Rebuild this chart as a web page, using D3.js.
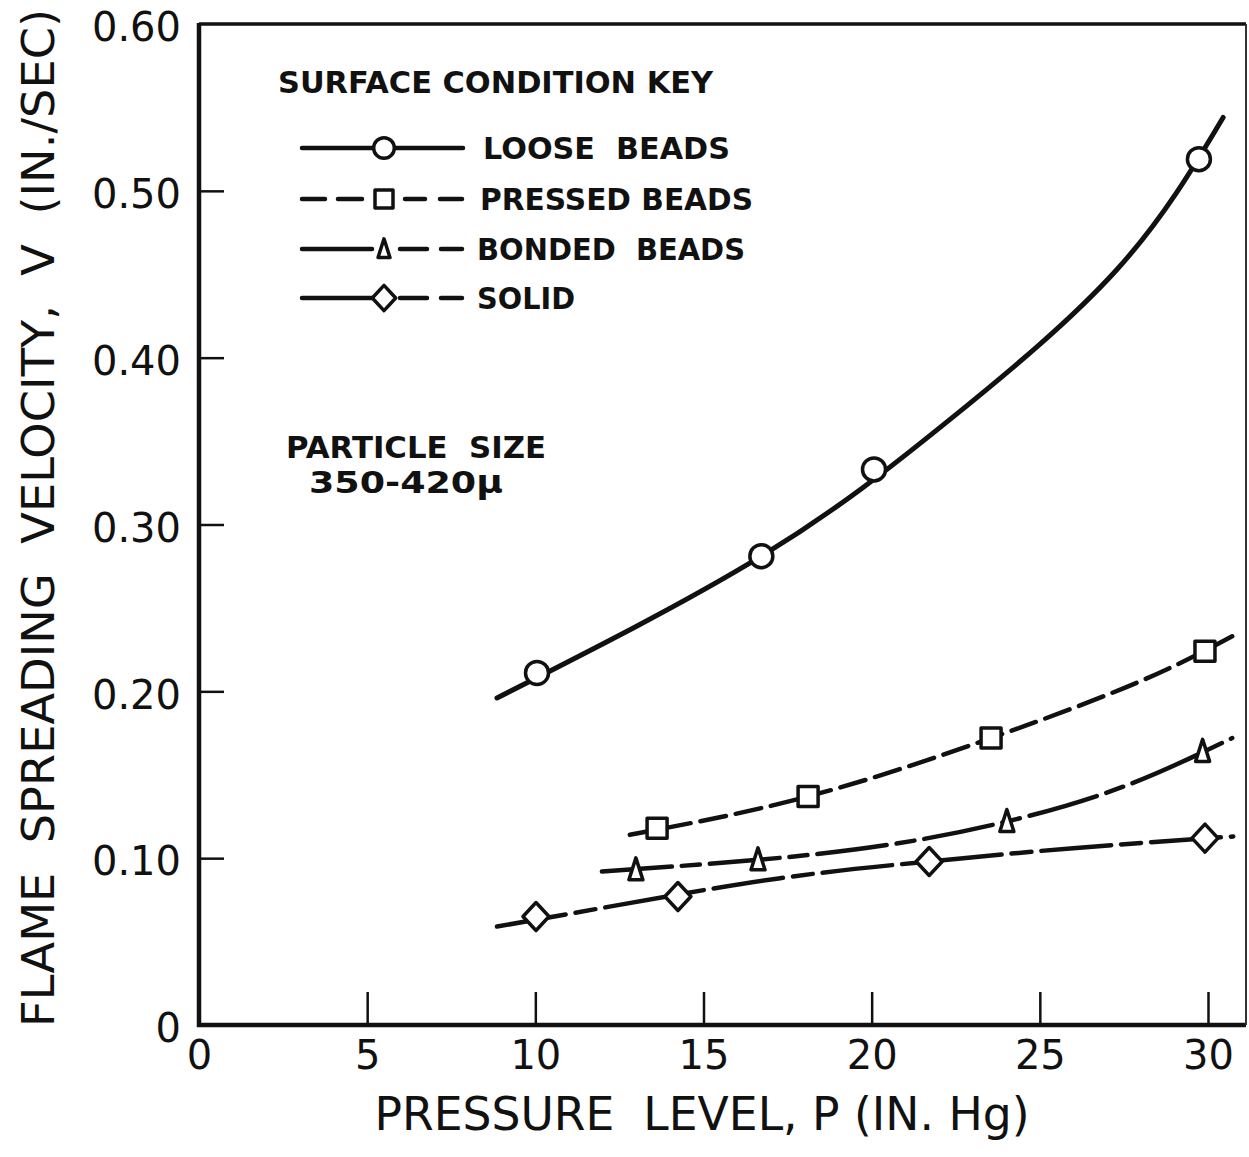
<!DOCTYPE html>
<html>
<head>
<meta charset="utf-8">
<script src="https://cdn.jsdelivr.net/npm/d3@7"></script>
<style>
  body { margin: 0; background: #fff; }
  text { font-family: "DejaVu Sans", sans-serif; fill: #111; white-space: pre; }
</style>
</head>
<body>
<div id="chart"></div>
<script>
// axis ticks
const xTicks = [0, 5, 10, 15, 20, 25, 30];
const yTicks = [0, 0.1, 0.2, 0.3, 0.4, 0.5, 0.6];
const yTickLabels = ["0", "0.10", "0.20", "0.30", "0.40", "0.50", "0.60"];

// measured points [P (in. Hg), V (in./sec)]
const looseBeads = [[10.05, 0.211], [16.72, 0.281], [20.07, 0.333], [29.73, 0.519]];
const pressedBeads = [[13.62, 0.118], [18.11, 0.137], [23.55, 0.172], [29.91, 0.224]];
const bondedBeads = [[12.99, 0.093], [16.62, 0.099], [24.02, 0.122], [29.84, 0.164]];
const solid = [[10.02, 0.065], [14.24, 0.077], [21.71, 0.098], [29.91, 0.112]];

// faired curves
const looseCurve = [[8.86, 0.196], [16.72, 0.281], [22.33, 0.363], [27.3, 0.453], [30.45, 0.544]];
const pressedCurve = [[12.81, 0.114], [18.11, 0.137], [23.55, 0.172], [27.98, 0.206], [30.72, 0.233]];
const bondedCurve = [[11.98, 0.092], [16.62, 0.099], [20.5, 0.108], [24.02, 0.122], [27.5, 0.143],
  [30.72, 0.172]];
const solidCurve = [[8.86, 0.059], [12.5, 0.072], [17.28, 0.088], [21.71, 0.098], [25.99, 0.106],
  [30.75, 0.113]];

const keyLabels = ["LOOSE  BEADS", "PRESSED BEADS", "BONDED  BEADS", "SOLID"];

const width = 1249, height = 1157;

const x = d3.scaleLinear().domain([0, 31.13]).range([199, 1246]);
const y = d3.scaleLinear().domain([0, 0.6]).range([1025, 24]);

const svg = d3.select("#chart")
  .append("svg")
  .attr("width", width)
  .attr("height", height)
  .attr("viewBox", `0 0 ${width} ${height}`);

// marker shapes
const drawMarker = (g, type, s) => {
  if (type === "circle") {
    g.append("circle").attr("r", 11.5 * s);
  } else if (type === "square") {
    g.append("rect").attr("x", -10 * s).attr("y", -10 * s).attr("width", 20 * s).attr("height", 20 * s);
  } else if (type === "triangle") {
    g.append("path").attr("d", `M0,${-12 * s}L${7 * s},${10 * s}L${-7 * s},${10 * s}Z`);
  } else {
    g.append("path").attr("d", `M0,${-14 * s}L${13 * s},0L0,${14 * s}L${-13 * s},0Z`);
  }
  g.selectAll("*")
    .attr("fill", "#fff")
    .attr("stroke", "#111")
    .attr("stroke-width", 3.5)
    .attr("stroke-linejoin", "round");
};

const series = [
  { pts: looseBeads, curve: looseCurve, marker: "circle", dash: null, w: 5 },
  { pts: pressedBeads, curve: pressedCurve, marker: "square", dash: "26,10", w: 4.5 },
  { pts: bondedBeads, curve: bondedCurve, marker: "triangle", dash: "70,10,18,10", w: 4.5 },
  { pts: solid, curve: solidCurve, marker: "diamond", dash: "70,10,20,10", w: 4.5 },
];

// y axis ticks and labels
const yAxis = svg.append("g")
  .attr("transform", `translate(${x(0)},0)`)
  .call(d3.axisLeft(y).tickValues(yTicks).tickFormat((d, i) => yTickLabels[i])
    .tickSizeInner(-25).tickSizeOuter(0).tickPadding(18));
yAxis.select(".domain").remove();
yAxis.selectAll(".tick line").attr("stroke", "#111").attr("stroke-width", 2.5)
  .filter((d) => d === 0 || d === 0.6).remove();
yAxis.selectAll(".tick text").attr("font-size", 40).attr("fill", "#111").attr("dy", "0.42em")
  .attr("font-family", '"DejaVu Sans", sans-serif');

// x axis ticks and labels
const xAxis = svg.append("g")
  .attr("transform", `translate(0,${y(0)})`)
  .call(d3.axisBottom(x).tickValues(xTicks).tickFormat(d3.format("d"))
    .tickSizeInner(-33).tickSizeOuter(0).tickPadding(16));
xAxis.select(".domain").remove();
xAxis.selectAll(".tick line").attr("stroke", "#111").attr("stroke-width", 2.5)
  .filter((d) => d === 0).remove();
xAxis.selectAll(".tick text").attr("font-size", 40).attr("fill", "#111")
  .attr("font-family", '"DejaVu Sans", sans-serif');

// frame
svg.append("line").attr("x1", x(0)).attr("x2", x(0)).attr("y1", y(0.6) - 1).attr("y2", y(0) + 2)
  .attr("stroke", "#111").attr("stroke-width", 4.5);
svg.append("line").attr("x1", x(0) - 2).attr("x2", x(31.13)).attr("y1", y(0)).attr("y2", y(0))
  .attr("stroke", "#111").attr("stroke-width", 4.5);
svg.append("line").attr("x1", x(0)).attr("x2", x(31.13)).attr("y1", y(0.6)).attr("y2", y(0.6))
  .attr("stroke", "#111").attr("stroke-width", 3.5);
svg.append("line").attr("x1", x(31.13)).attr("x2", x(31.13)).attr("y1", y(0.6)).attr("y2", y(0))
  .attr("stroke", "#333").attr("stroke-width", 2);

// curves
const line = d3.line()
  .x((d) => x(d[0]))
  .y((d) => y(d[1]))
  .curve(d3.curveNatural);

series.forEach((s) => {
  svg.append("path")
    .datum(s.curve)
    .attr("d", line)
    .attr("fill", "none")
    .attr("stroke", "#111")
    .attr("stroke-width", s.w)
    .attr("stroke-linecap", "round")
    .attr("stroke-dasharray", s.dash);
});

series.forEach((s) => {
  s.pts.forEach((p) => {
    const g = svg.append("g").attr("transform", `translate(${x(p[0])},${y(p[1])})`);
    drawMarker(g, s.marker, 1);
  });
});

// key
svg.append("text")
  .attr("x", 278).attr("y", 93)
  .attr("font-size", 31).attr("font-weight", "bold")
  .attr("textLength", 435).attr("lengthAdjust", "spacingAndGlyphs")
  .text("SURFACE CONDITION KEY");

const keyY = [148, 199, 249, 298];
const keyLabelX = [483, 480, 477, 477];
const keyLabelW = [247, 273, 268, 98];

series.forEach((s, i) => {
  const ky = keyY[i];
  const k = svg.append("g");
  if (i === 0) {
    k.append("line").attr("x1", 302).attr("x2", 463).attr("y1", ky).attr("y2", ky)
      .attr("stroke", "#111").attr("stroke-width", 4.5).attr("stroke-linecap", "round");
  } else if (i === 1) {
    [[302, 325], [338, 362], [405, 425], [440, 462]].forEach((seg) => {
      k.append("line").attr("x1", seg[0]).attr("x2", seg[1]).attr("y1", ky).attr("y2", ky)
        .attr("stroke", "#111").attr("stroke-width", 4.5).attr("stroke-linecap", "round");
    });
  } else {
    [[302, 372], [400, 427], [441, 462]].forEach((seg) => {
      k.append("line").attr("x1", seg[0]).attr("x2", seg[1]).attr("y1", ky).attr("y2", ky)
        .attr("stroke", "#111").attr("stroke-width", 4.5).attr("stroke-linecap", "round");
    });
  }
  const m = k.append("g").attr("transform", `translate(384,${ky})`);
  drawMarker(m, s.marker, i === 2 ? 0.85 : 0.9);

  k.append("text")
    .attr("x", keyLabelX[i]).attr("y", ky + 11)
    .attr("font-size", 31).attr("font-weight", "bold")
    .attr("textLength", keyLabelW[i]).attr("lengthAdjust", "spacingAndGlyphs")
    .text(keyLabels[i]);
});

// particle size note
svg.append("text")
  .attr("x", 286).attr("y", 458)
  .attr("font-size", 31).attr("font-weight", "bold")
  .attr("textLength", 260).attr("lengthAdjust", "spacingAndGlyphs")
  .text("PARTICLE  SIZE");
svg.append("text")
  .attr("x", 309).attr("y", 493)
  .attr("font-size", 31).attr("font-weight", "bold")
  .attr("textLength", 194).attr("lengthAdjust", "spacingAndGlyphs")
  .text("350-420\u03BC");

// axis titles
svg.append("text")
  .attr("transform", "translate(54,518) rotate(-90)")
  .attr("text-anchor", "middle")
  .attr("font-size", 44)
  .attr("textLength", 1018).attr("lengthAdjust", "spacingAndGlyphs")
  .text("FLAME  SPREADING  VELOCITY,  V  (IN./SEC)");

svg.append("text")
  .attr("x", 702).attr("y", 1130)
  .attr("text-anchor", "middle")
  .attr("font-size", 46)
  .attr("textLength", 655).attr("lengthAdjust", "spacingAndGlyphs")
  .text("PRESSURE  LEVEL, P (IN. Hg)");
</script>
</body>
</html>
